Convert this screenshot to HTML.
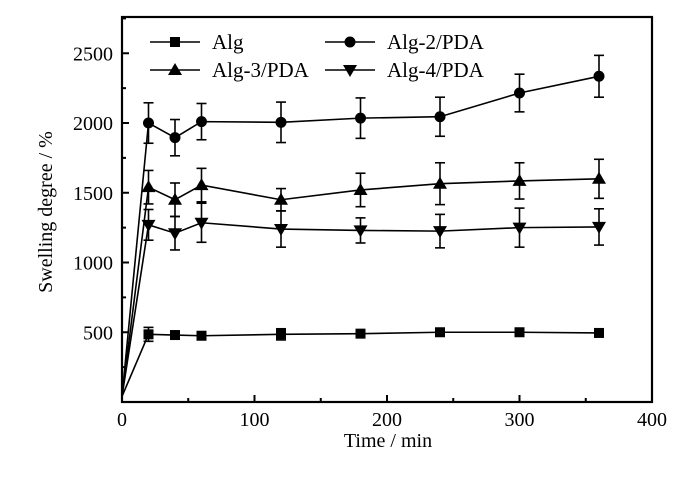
<!DOCTYPE html>
<html><head><meta charset="utf-8"><style>
body{margin:0;background:#fff}
svg{display:block;font-family:"Liberation Serif",serif}
</style></head><body>
<svg id="chart" width="700" height="481"></svg>
<script>
const times=[0,20,40,60,120,180,240,300,360];
const seriesNames=["Alg","Alg-2/PDA","Alg-3/PDA","Alg-4/PDA"];
const algVals=[40,485,480,475,485,490,500,500,495];
const algErr=[0,50,0,0,40,0,0,0,0];
const alg2Vals=[40,2000,1895,2010,2005,2035,2045,2215,2335];
const alg2Err=[0,145,130,130,145,145,140,135,150];
const alg3Vals=[40,1540,1450,1555,1450,1520,1565,1585,1600];
const alg3Err=[0,120,120,120,80,120,150,130,140];
const alg4Vals=[40,1270,1210,1285,1240,1230,1225,1250,1255];
const alg4Err=[0,110,120,140,130,90,120,140,130];
const xTicks=[0,100,200,300,400];
const yTicks=[500,1000,1500,2000,2500];
const markers=["square","circle","triangle","down"];

const NS="http://www.w3.org/2000/svg";
const svg=document.getElementById('chart');
const L=122,R=652,T=17,B=402;
const X=v=>L+v/400*(R-L);
const Y=v=>B-v/2760*(B-T);
function mk(tag,attrs,parent){const e=document.createElementNS(NS,tag);for(const k in attrs)e.setAttribute(k,attrs[k]);(parent||svg).appendChild(e);return e;}
function marker(type,x,y,g){
  if(type==="square")return mk('rect',{x:x-5,y:y-5,width:10,height:10,fill:'#000'},g);
  if(type==="circle")return mk('circle',{cx:x,cy:y,r:5.5,fill:'#000'},g);
  if(type==="triangle")return mk('polygon',{points:`${x},${y-7} ${x-7},${y+5} ${x+7},${y+5}`,fill:'#000'},g);
  return mk('polygon',{points:`${x},${y+7} ${x-7},${y-5} ${x+7},${y-5}`,fill:'#000'},g);
}
const frame=mk('rect',{x:L,y:T,width:R-L,height:B-T,fill:'none',stroke:'#000','stroke-width':2.2});


for(let v=0;v<=400;v+=50){
  const major=v%100===0;
  mk('line',{x1:X(v),x2:X(v),y1:B,y2:B-(major?7:4),stroke:'#000','stroke-width':2});
}
xTicks.forEach(v=>{
  const t=mk('text',{x:X(v),y:B+24,'text-anchor':'middle','font-size':20});
  t.textContent=v;
  
  
});
for(let v=250;v<=2750;v+=250){
  const major=v%500===0;
  mk('line',{x1:L,x2:L+(major?7:4),y1:Y(v),y2:Y(v),stroke:'#000','stroke-width':2});
}
yTicks.forEach(v=>{
  const t=mk('text',{x:L-9,y:Y(v)+7,'text-anchor':'end','font-size':20});
  t.textContent=v;
  
  
});
const xl=mk('text',{x:388,y:447,'text-anchor':'middle','font-size':20});
xl.textContent="Time / min";


const yl=mk('text',{x:0,y:0,'text-anchor':'middle','font-size':20,transform:'translate(52,212) rotate(-90)'});
yl.textContent="Swelling degree / %";


const allVals=[algVals,alg2Vals,alg3Vals,alg4Vals];
const allErr=[algErr,alg2Err,alg3Err,alg4Err];
allVals.forEach((vals,si)=>{
  const g=mk('g',{});
  
  
  mk('polyline',{points:times.map((t,i)=>X(t)+','+Y(vals[i])).join(' '),fill:'none',stroke:'#000','stroke-width':1.6},g);
  times.forEach((t,i)=>{
    const e=allErr[si][i];
    if(e>0){
      const x=X(t);
      mk('line',{x1:x,x2:x,y1:Y(vals[i]-e),y2:Y(vals[i]+e),stroke:'#000','stroke-width':1.6},g);
      mk('line',{x1:x-5,x2:x+5,y1:Y(vals[i]-e),y2:Y(vals[i]-e),stroke:'#000','stroke-width':1.6},g);
      mk('line',{x1:x-5,x2:x+5,y1:Y(vals[i]+e),y2:Y(vals[i]+e),stroke:'#000','stroke-width':1.6},g);
    }
    if(i>0){const m=marker(markers[si],X(t),Y(vals[i]),g);
      
      }
  });
});
const legPos=[[150,42],[325,42],[150,70],[325,70]];
seriesNames.forEach((n,i)=>{
  const [lx,ly]=legPos[i];
  const g=mk('g',{});
  
  
  mk('line',{x1:lx,x2:lx+50,y1:ly,y2:ly,stroke:'#000','stroke-width':1.6},g);
  marker(markers[i],lx+25,ly,g);
  const t=mk('text',{x:lx+62,y:ly+7,'font-size':21},g);
  t.textContent=n;
});
</script>
</body></html>
